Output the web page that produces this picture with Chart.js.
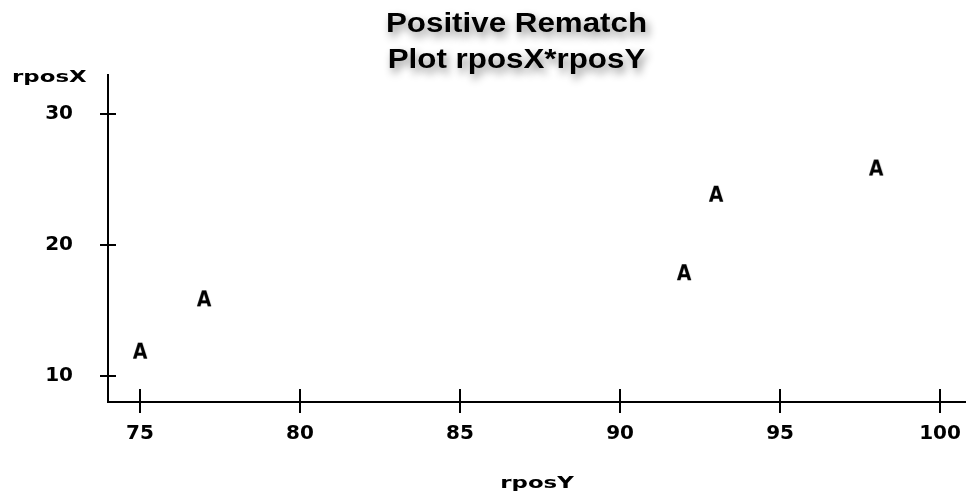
<!DOCTYPE html>
<html>
<head>
<meta charset="utf-8">
<script src="https://cdn.jsdelivr.net/npm/chart.js@4"></script>
<style>
  html, body { margin: 0; padding: 0; background: #fff; }
  canvas { display: block; }
</style>
</head>
<body>
<canvas id="chart" width="966" height="495"></canvas>
<script>
// rposY goes on the horizontal axis, rposX on the vertical one
const rposY = [75, 77, 92, 93, 98];
const rposX = [12, 16, 18, 24, 26];
const xTicks = [75, 80, 85, 90, 95, 100];
const yTicks = [10, 20, 30];
const titleLines = ["Positive Rematch", "Plot rposX*rposY"];
const xTitle = "rposY";
const yTitle = "rposX";
const markLetter = "A";

// the plot symbol is a letter, drawn once on a small canvas
function letterMark(ch) {
  const c = document.createElement("canvas");
  c.width = 24;
  c.height = 24;
  const g = c.getContext("2d");
  g.fillStyle = "#000";
  g.font = "bold 21px 'DejaVu Sans'";
  g.textAlign = "center";
  g.textBaseline = "alphabetic";
  g.save();
  g.translate(12, 21.2);
  g.scale(0.9, 1);
  g.fillText(ch, 0, 0);
  g.restore();
  return c;
}

function stretchedText(ctx, text, x, y, sx, align) {
  ctx.save();
  ctx.translate(x, y);
  ctx.scale(sx, 1);
  ctx.textAlign = align;
  ctx.textBaseline = "alphabetic";
  ctx.fillText(text, 0, 0);
  ctx.restore();
}

// ticks that cross the axis lines, axis titles and the shadowed title
const decor = {
  id: "decor",
  afterDraw(chart) {
    const ctx = chart.ctx;
    const xs = chart.scales.x;
    const ys = chart.scales.y;
    const area = chart.chartArea;

    ctx.save();
    ctx.strokeStyle = "#000";
    ctx.lineWidth = 2;
    ctx.beginPath();
    xTicks.forEach(v => {
      const px = Math.round(xs.getPixelForValue(v));
      ctx.moveTo(px, area.bottom - 13);
      ctx.lineTo(px, area.bottom + 11);
    });
    yTicks.forEach(v => {
      const py = Math.round(ys.getPixelForValue(v));
      ctx.moveTo(area.left - 8, py);
      ctx.lineTo(area.left + 8, py);
    });
    ctx.stroke();

    ctx.fillStyle = "#000";
    ctx.font = "bold 16px 'DejaVu Sans'";
    stretchedText(ctx, yTitle, 12, area.top + 7, 1.43, "left");
    stretchedText(ctx, xTitle, (area.left + area.right) / 2, 488, 1.43, "center");

    ctx.font = "bold 27px 'Liberation Sans'";
    ctx.shadowColor = "rgba(0,0,0,0.45)";
    ctx.shadowBlur = 8;
    ctx.shadowOffsetX = 3;
    ctx.shadowOffsetY = 5;
    titleLines.forEach((line, i) => {
      stretchedText(ctx, line, 516.5, 32 + i * 36, 1.16, "center");
    });
    ctx.restore();
  }
};

const tickFont = { family: "DejaVu Sans", size: 20, weight: "bold" };

new Chart(document.getElementById("chart"), {
  type: "scatter",
  data: {
    datasets: [{
      data: rposY.map((x, i) => ({ x: x, y: rposX[i] })),
      pointStyle: letterMark(markLetter),
      pointRadius: 12,
      pointHoverRadius: 12
    }]
  },
  options: {
    responsive: false,
    animation: false,
    events: [],
    layout: { autoPadding: false, padding: { top: 75, left: 0, right: 0, bottom: 0 } },
    plugins: {
      legend: { display: false },
      title: { display: false },
      tooltip: { enabled: false }
    },
    scales: {
      x: {
        type: "linear",
        min: 74,
        max: 100.81,
        grid: { display: false },
        border: { display: true, color: "#000", width: 2 },
        ticks: { padding: 12, color: "#000", font: tickFont },
        afterBuildTicks: s => { s.ticks = xTicks.map(v => ({ value: v })); },
        afterFit: s => { s.height = 93; s.paddingLeft = 0; s.paddingRight = 0; }
      },
      y: {
        type: "linear",
        min: 8,
        max: 33,
        grid: { display: false },
        border: { display: true, color: "#000", width: 2 },
        ticks: { padding: 27, color: "#000", font: tickFont },
        afterBuildTicks: s => { s.ticks = yTicks.map(v => ({ value: v })); },
        afterFit: s => { s.width = 108; s.paddingTop = 0; s.paddingBottom = 0; }
      }
    }
  },
  plugins: [decor]
});
</script>
</body>
</html>
